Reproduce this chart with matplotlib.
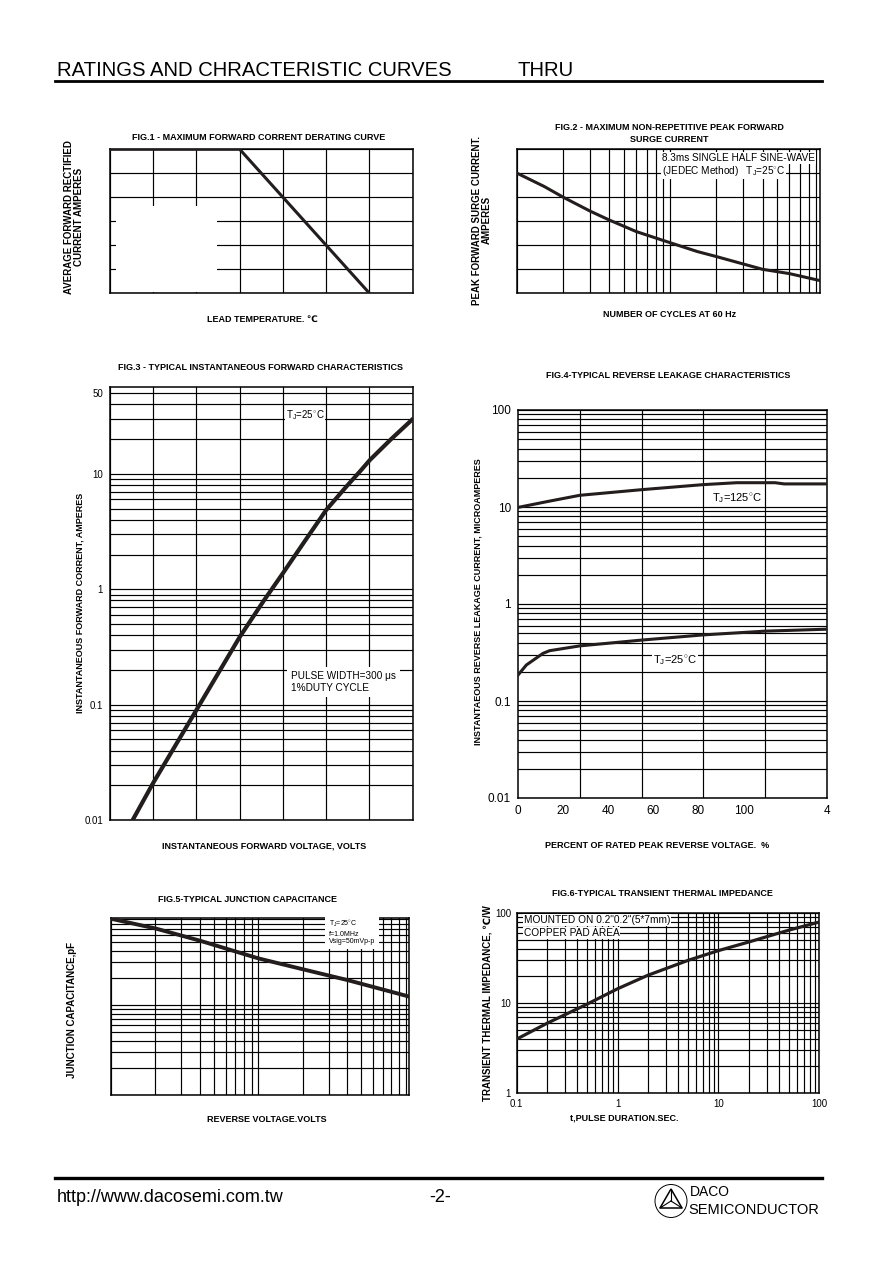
import numpy as np
import matplotlib
matplotlib.use("Agg")
import matplotlib.pyplot as plt
from matplotlib.ticker import MultipleLocator, LogLocator, NullFormatter, FixedLocator
from matplotlib.patches import Rectangle, Ellipse, Polygon

plt.rcParams['font.family'] = ['Liberation Sans', 'DejaVu Sans']
plt.rcParams['mathtext.fontset'] = 'custom'
plt.rcParams['mathtext.rm'] = 'Liberation Sans'

# page size in pixels
W, H = 894, 1263

# Fig.1 derating curve
f1_temp = [0, 75, 150]
f1_amps = [1.2, 1.2, 0.0]

# Fig.2 surge current
f2_cycles = [1, 1.5, 2, 3, 4, 6, 9, 15, 20, 30, 40, 60, 95]
f2_amps = [50, 44.5, 40, 34.2, 30.5, 25.7, 22, 17.4, 15.3, 12.2, 10, 8.2, 5.3]

# Fig.3 forward characteristics
f3_volts = [0.505, 0.6, 0.8, 1.0, 1.112, 1.2, 1.3, 1.4, 1.494, 1.556, 1.602, 1.7, 1.796]
f3_amps = [0.01, 0.021, 0.09, 0.386, 0.80, 1.38, 2.6, 4.87, 7.8, 10.5, 13.2, 20.0, 29.4]

# Fig.4 reverse leakage
f4_pct_125 = [0, 14, 27.4, 55, 82, 97, 114, 118, 137]
f4_ir_125 = [9.9, 11.5, 13.2, 15.1, 17.0, 17.8, 17.8, 17.3, 17.3]
f4_pct_25 = [0, 3.7, 11.1, 14, 27.4, 55, 82, 109.6, 137]
f4_ir_25 = [0.185, 0.235, 0.31, 0.33, 0.37, 0.425, 0.48, 0.525, 0.55]
f4_xticks = [0, 20, 40, 60, 80, 100, 137]
f4_xlabels = ['0', '20', '40', '60', '80', '100', '4']

# Fig.5 junction capacitance
f5_volts = [1, 2, 4, 10, 20, 40, 106]
f5_cap = [91, 71, 52, 33, 25, 19, 12.4]

# Fig.6 transient thermal impedance
f6_t = [0.1, 0.2, 0.5, 1, 2, 5, 10, 20, 50, 100]
f6_z = [4.0, 6.0, 9.8, 14.5, 20.5, 30, 38.5, 48, 65, 80]

curve_col = '#231d1d'
DEG = r'$^{\circ}$C'


def box(l, t, r, b):
    return [l / W, 1 - b / H, (r - l) / W, (b - t) / H]


def ftxt(x, y, s, **kw):
    fig.text(x / W, 1 - y / H, s, **kw)


def style(ax):
    for sp in ax.spines.values():
        sp.set_linewidth(1.1)
    ax.tick_params(which='both', length=0)
    ax.grid(True, which='both', color='black', linewidth=0.85)
    ax.set_axisbelow(True)


fig = plt.figure(figsize=(W / 100, H / 100), dpi=100)

# header and footer
ftxt(57, 76, 'RATINGS AND CHRACTERISTIC CURVES', fontsize=14.6, va='baseline')
ftxt(518, 76, 'THRU', fontsize=14.6, va='baseline')
fig.add_artist(plt.Line2D([55 / W, 822 / W], [1 - 81 / H, 1 - 81 / H], color='black', lw=2))
fig.add_artist(plt.Line2D([55 / W, 822 / W], [1 - 1178 / H, 1 - 1178 / H], color='black', lw=2.4))
ftxt(57, 1198, 'http://www.dacosemi.com.tw', fontsize=13, va='center')
ftxt(440, 1198, '-2-', fontsize=13, va='center', ha='center')
ftxt(690, 1192, 'DACO', fontsize=10, va='center')
ftxt(688, 1210, 'SEMICONDUCTOR', fontsize=10.5, va='center')
cx, cy = 671 / W, 1 - 1201 / H
fig.add_artist(Ellipse((cx, cy), 32 / W, 33 / H, transform=fig.transFigure, fill=False, lw=0.7))
tri = [(cx, cy + 12 / H), (cx - 11 / W, cy - 7 / H), (cx + 11 / W, cy - 7 / H)]
fig.add_artist(Polygon(tri, closed=True, fill=False, lw=1.1, transform=fig.transFigure))
for vx, vy in tri:
    fig.add_artist(plt.Line2D([cx, vx], [cy, vy], color='black', lw=0.8))

# ---------------- Fig.1 ----------------
ax1 = fig.add_axes(box(110, 149.3, 412.7, 293.3))
ax1.plot(f1_temp, f1_amps, color=curve_col, lw=2.2, zorder=3)
ax1.set_xlim(0, 175)
ax1.set_ylim(0, 1.2)
ax1.xaxis.set_major_locator(MultipleLocator(25))
ax1.yaxis.set_major_locator(MultipleLocator(0.2))
ax1.set_xticklabels([])
ax1.set_yticklabels([])
style(ax1)
ax1.add_patch(Rectangle((0.019, 0.006), 0.333, 0.6, transform=ax1.transAxes,
                        facecolor='white', edgecolor='none', zorder=1.5))
ftxt(259, 137, 'FIG.1 - MAXIMUM FORWARD CORRENT DERATING CURVE', fontsize=6.5,
     fontweight='bold', ha='center', va='center')
ftxt(74, 217, 'AVERAGE FORWARD RECTIFIED\nCURRENT AMPERES', fontsize=7, fontweight='bold',
     ha='center', va='center', rotation=90, linespacing=1.0)
ftxt(262, 319, 'LEAD TEMPERATURE. ℃', fontsize=6.5, fontweight='bold', ha='center', va='center')

# ---------------- Fig.2 ----------------
ax2 = fig.add_axes(box(517.3, 149.3, 820, 293.3))
ax2.plot(f2_cycles, f2_amps, color=curve_col, lw=2.2, zorder=3)
ax2.set_xscale('log')
ax2.set_xlim(1, 95)
ax2.set_ylim(0, 60)
ax2.yaxis.set_major_locator(MultipleLocator(10))
ax2.xaxis.set_minor_locator(LogLocator(subs=np.arange(2, 10)))
ax2.xaxis.set_major_formatter(NullFormatter())
ax2.xaxis.set_minor_formatter(NullFormatter())
ax2.set_yticklabels([])
style(ax2)
ftxt(669, 127, 'FIG.2 - MAXIMUM NON-REPETITIVE PEAK FORWARD', fontsize=6.5,
     fontweight='bold', ha='center', va='center')
ftxt(669, 140, 'SURGE CURRENT', fontsize=6.5, fontweight='bold', ha='center', va='center')
ftxt(482, 220, 'PEAK FORWARD SURGE CURRENT.\nAMPERES', fontsize=7, fontweight='bold',
     ha='center', va='center', rotation=90, linespacing=1.0)
ftxt(670, 315, 'NUMBER OF CYCLES AT 60 Hz', fontsize=6.5, fontweight='bold', ha='center', va='center')
ftxt(662, 158, '8.3ms SINGLE HALF SINE-WAVE', fontsize=7.2, va='center',
     bbox=dict(fc='white', ec='none', pad=0.5))
ftxt(662, 171, r'(JEDEC Method)   T$_{\rm J}$=25' + DEG, fontsize=7.2, va='center',
     bbox=dict(fc='white', ec='none', pad=0.5))

# ---------------- Fig.3 ----------------
ax3 = fig.add_axes(box(110, 386.7, 412.7, 820))
ax3.plot(f3_volts, f3_amps, color=curve_col, lw=3, zorder=3)
ax3.set_yscale('log')
ax3.set_xlim(0.4, 1.8)
ax3.set_ylim(0.01, 57)
ax3.xaxis.set_major_locator(MultipleLocator(0.2))
ax3.set_xticklabels([])
ax3.yaxis.set_major_locator(FixedLocator([0.01, 0.1, 1, 10, 50]))
ax3.set_yticklabels(['0.01', '0.1', '1', '10', '50'])
ax3.yaxis.set_minor_locator(LogLocator(subs=np.arange(2, 10)))
ax3.yaxis.set_minor_formatter(NullFormatter())
style(ax3)
ax3.tick_params(axis='y', labelsize=7, pad=5)
ftxt(260, 368, 'FIG.3 - TYPICAL INSTANTANEOUS FORWARD CHARACTERISTICS', fontsize=6.5,
     fontweight='bold', ha='center', va='center')
ftxt(80, 603, 'INSTANTANEOUS FORWARD CORRENT, AMPERES', fontsize=6.5, fontweight='bold',
     ha='center', va='center', rotation=90)
ftxt(264, 846, 'INSTANTANEOUS FORWARD VOLTAGE, VOLTS', fontsize=6.5, fontweight='bold',
     ha='center', va='center')
ftxt(286, 415, r'T$_{\rm J}$=25' + DEG, fontsize=7, va='center',
     bbox=dict(fc='white', ec='none', pad=0.5))
ftxt(291, 682, 'PULSE WIDTH=300 μs\n1%DUTY CYCLE', fontsize=7.2, va='center', linespacing=1.25,
     bbox=dict(fc='white', ec='none', pad=3))

# ---------------- Fig.4 ----------------
ax4 = fig.add_axes(box(518, 410, 827, 798))
ax4.plot(f4_pct_125, f4_ir_125, color=curve_col, lw=2.2, zorder=3)
ax4.plot(f4_pct_25, f4_ir_25, color=curve_col, lw=2.2, zorder=3)
ax4.set_yscale('log')
ax4.set_xlim(0, 137)
ax4.set_ylim(0.01, 100)
ax4.xaxis.set_major_locator(FixedLocator(f4_xticks))
ax4.set_xticklabels(f4_xlabels)
ax4.xaxis.set_minor_locator(FixedLocator(np.linspace(0, 137, 6)))
ax4.yaxis.set_major_locator(FixedLocator([0.01, 0.1, 1, 10, 100]))
ax4.set_yticklabels(['0.01', '0.1', '1', '10', '100'])
ax4.yaxis.set_minor_locator(LogLocator(subs=np.arange(2, 10)))
ax4.yaxis.set_minor_formatter(NullFormatter())
style(ax4)
ax4.grid(False, axis='x', which='major')
ax4.grid(True, axis='x', which='minor', color='black', linewidth=0.85)
ax4.tick_params(labelsize=8.5, pad=5)
ftxt(668, 375, 'FIG.4-TYPICAL REVERSE LEAKAGE CHARACTERISTICS', fontsize=6.5,
     fontweight='bold', ha='center', va='center')
ftxt(478, 602, 'INSTANTAEOUS REVERSE LEAKAGE CURRENT, MICROAMPERES', fontsize=6.5,
     fontweight='bold', ha='center', va='center', rotation=90)
ftxt(657, 845, 'PERCENT OF RATED PEAK REVERSE VOLTAGE.  %', fontsize=6.5, fontweight='bold',
     ha='center', va='center')
ftxt(712, 498, r'T$_{\rm J}$=125' + DEG, fontsize=8, va='center',
     bbox=dict(fc='white', ec='none', pad=0.5))
ftxt(653, 660, r'T$_{\rm J}$=25' + DEG, fontsize=8, va='center',
     bbox=dict(fc='white', ec='none', pad=0.5))

# ---------------- Fig.5 ----------------
ax5 = fig.add_axes(box(111, 918.3, 409.3, 1095))
ax5.plot(f5_volts, f5_cap, color=curve_col, lw=2.8, zorder=3)
ax5.set_xscale('log')
ax5.set_yscale('log')
ax5.set_xlim(1, 106)
ax5.set_ylim(1, 92)
for a in (ax5.xaxis, ax5.yaxis):
    a.set_minor_locator(LogLocator(subs=np.arange(2, 10)))
    a.set_major_formatter(NullFormatter())
    a.set_minor_formatter(NullFormatter())
style(ax5)
ftxt(247, 899, 'FIG.5-TYPICAL JUNCTION CAPACITANCE', fontsize=6.5, fontweight='bold',
     ha='center', va='center')
ftxt(72, 1010, 'JUNCTION CAPACITANCE,pF', fontsize=7, fontweight='bold',
     ha='center', va='center', rotation=90)
ftxt(267, 1120, 'REVERSE VOLTAGE.VOLTS', fontsize=6.5, fontweight='bold', ha='center', va='center')
ftxt(329, 932, r'T$_{\rm J}$=25' + DEG + '\nf=1.0MHz\nVsig=50mVp-p', fontsize=5, va='center',
     linespacing=1.1, bbox=dict(fc='white', ec='none', pad=3))

# ---------------- Fig.6 ----------------
ax6 = fig.add_axes(box(516.7, 913.3, 819.3, 1093.3))
ax6.plot(f6_t, f6_z, color=curve_col, lw=2.3, zorder=3)
ax6.set_xscale('log')
ax6.set_yscale('log')
ax6.set_xlim(0.1, 100)
ax6.set_ylim(1, 100)
ax6.xaxis.set_major_locator(FixedLocator([0.1, 1, 10, 100]))
ax6.set_xticklabels(['0.1', '1', '10', '100'])
ax6.yaxis.set_major_locator(FixedLocator([1, 10, 100]))
ax6.set_yticklabels(['1', '10', '100'])
for a in (ax6.xaxis, ax6.yaxis):
    a.set_minor_locator(LogLocator(subs=np.arange(2, 10)))
    a.set_minor_formatter(NullFormatter())
style(ax6)
ax6.tick_params(labelsize=7, pad=4)
ftxt(662, 894, 'FIG.6-TYPICAL TRANSIENT THERMAL IMPEDANCE', fontsize=6.5, fontweight='bold',
     ha='center', va='center')
ftxt(488, 1003, 'TRANSIENT THERMAL IMPEDANCE, ℃/W', fontsize=7, fontweight='bold',
     ha='center', va='center', rotation=90)
ftxt(624, 1118, 't,PULSE DURATION.SEC.', fontsize=6.5, fontweight='bold', ha='center', va='center')
ftxt(524, 920, 'MOUNTED ON 0.2"0.2"(5*7mm)', fontsize=7.3, va='center',
     bbox=dict(fc='white', ec='none', pad=0.5))
ftxt(524, 933, 'COPPER PAD AREA', fontsize=7.3, va='center',
     bbox=dict(fc='white', ec='none', pad=0.5))

fig.savefig('out.png', dpi=100, facecolor='white')
